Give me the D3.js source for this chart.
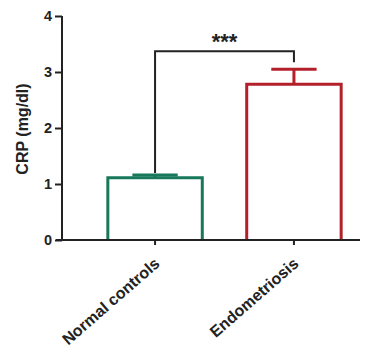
<!DOCTYPE html>
<html>
<head>
<meta charset="utf-8">
<script src="https://cdn.jsdelivr.net/npm/d3@7"></script>
<style>
body { margin: 0; background: #fff; }
text { font-family: "Liberation Sans", Arial, sans-serif; font-weight: bold; fill: #222; }
</style>
</head>
<body>
<svg width="378" height="353"></svg>
<script>
var groups = ["Normal controls", "Endometriosis"];
var means = [1.11, 2.78];
var errors = [0.05, 0.27];
var colors = ["#17785a", "#b3202a"];
var yTicks = [0, 1, 2, 3, 4];
var sigLabel = "***";
var bracketY = 3.37;

var svg = d3.select("svg");

var x = d3.scaleBand()
	.domain(groups)
	.range([62, 387])
	.paddingInner(0.32)
	.paddingOuter(0.33);

var y = d3.scaleLinear()
	.domain([0, 4])
	.range([240, 16]);

// y axis
var yAxis = svg.append("g")
	.attr("transform", "translate(62,0)")
	.call(d3.axisLeft(y).tickValues(yTicks).tickSize(7).tickPadding(3).tickFormat(d3.format("d")));
yAxis.select(".domain").attr("stroke", "#222").attr("stroke-width", 2).attr("d", "M0," + y(4) + "V" + y(0));
yAxis.selectAll(".tick line").attr("stroke", "#222").attr("stroke-width", 2);
yAxis.selectAll(".tick text").style("font-size", "14.5px").style("font-family", "Liberation Sans, Arial, sans-serif").style("font-weight", "bold").attr("fill", "#222");

// bars
var bars = svg.append("g");
groups.forEach(function(g, i) {
	var x0 = x(g), w = x.bandwidth();
	bars.append("path")
		.attr("d", "M" + x0 + "," + y(0) + "V" + y(means[i]) + "H" + (x0 + w) + "V" + y(0))
		.attr("fill", "none")
		.attr("stroke", colors[i])
		.attr("stroke-width", 3);
	var cx = x0 + w / 2;
	bars.append("line")
		.attr("x1", cx).attr("x2", cx)
		.attr("y1", y(means[i])).attr("y2", y(means[i] + errors[i]))
		.attr("stroke", colors[i]).attr("stroke-width", 3);
	bars.append("line")
		.attr("x1", cx - w * 0.24).attr("x2", cx + w * 0.24)
		.attr("y1", y(means[i] + errors[i])).attr("y2", y(means[i] + errors[i]))
		.attr("stroke", colors[i]).attr("stroke-width", 3);
});

// x axis
var xAxis = svg.append("g")
	.attr("transform", "translate(0," + y(0) + ")")
	.call(d3.axisBottom(x).tickSize(5).tickPadding(4));
xAxis.select(".domain").attr("stroke", "#222").attr("stroke-width", 2).attr("d", "M56,0H360");
xAxis.selectAll(".tick line").attr("stroke", "#222").attr("stroke-width", 2);
xAxis.selectAll(".tick text")
	.style("font-size", "16px")
	.style("font-family", "Liberation Sans, Arial, sans-serif")
	.style("font-weight", "bold")
	.attr("fill", "#222")
	.attr("text-anchor", "end")
	.attr("dy", "0.35em")
	.attr("transform", "translate(2,21) rotate(-41)")
	.attr("y", 0).attr("x", 0);

// significance bracket
var c0 = x(groups[0]) + x.bandwidth() / 2,
	c1 = x(groups[1]) + x.bandwidth() / 2;
svg.append("path")
	.attr("d", "M" + c0 + "," + (y(means[0] + errors[0]) - 2) + "V" + y(bracketY) + "H" + c1 + "V" + (y(means[1] + errors[1]) - 7))
	.attr("fill", "none")
	.attr("stroke", "#222")
	.attr("stroke-width", 2);
svg.append("text")
	.attr("x", (c0 + c1) / 2)
	.attr("y", y(bracketY) - 2)
	.attr("text-anchor", "middle")
	.style("font-size", "22px")
	.text(sigLabel);

// y label
svg.append("text")
	.attr("transform", "translate(28," + (y(2) + 1) + ") rotate(-90)")
	.attr("text-anchor", "middle")
	.style("font-size", "16px")
	.text("CRP (mg/dl)");
</script>
</body>
</html>
